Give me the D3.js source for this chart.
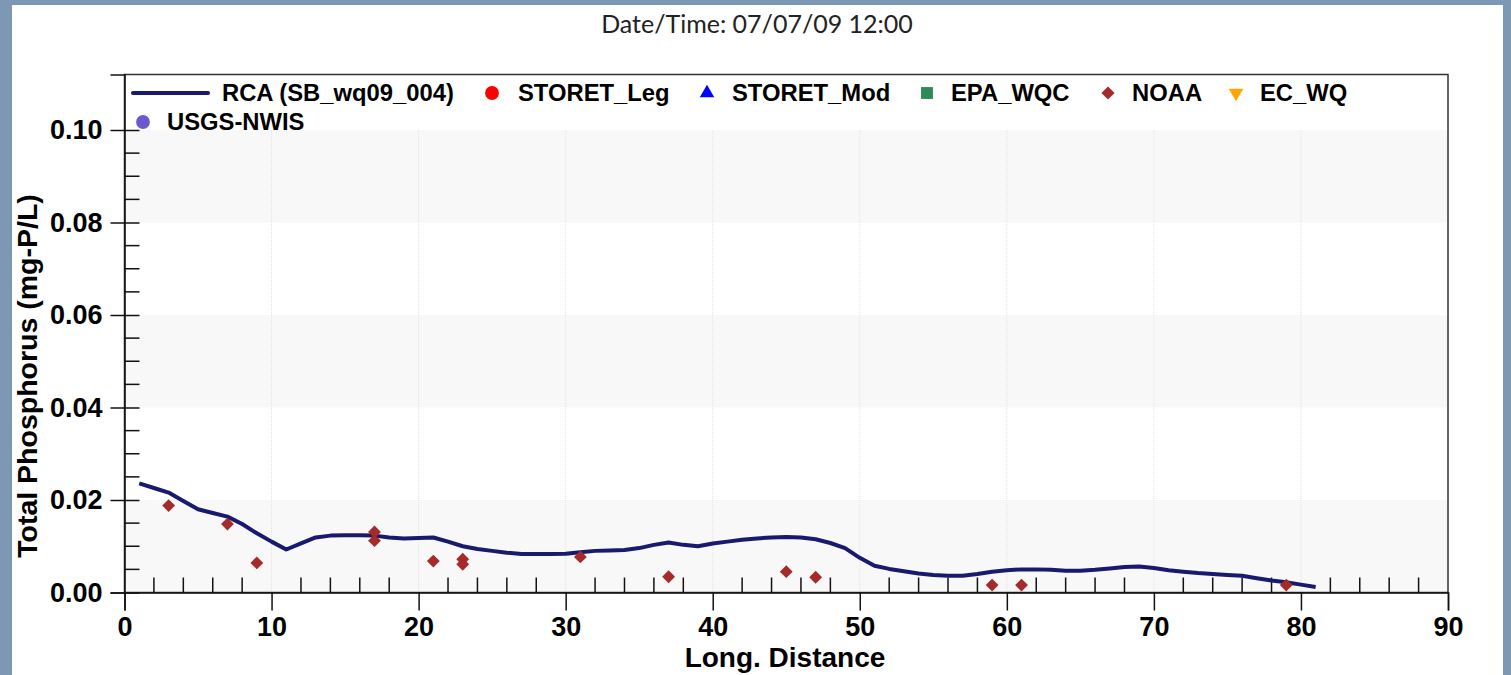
<!DOCTYPE html>
<html>
<head>
<meta charset="utf-8">
<script src="https://cdn.jsdelivr.net/npm/d3@7"></script>
<style>
  html, body { margin: 0; padding: 0; background: #7d98b5; }
  svg { display: block; }
</style>
</head>
<body>
<svg id="chart" width="1511" height="675"></svg>
<script>
// Model profile: RCA (SB_wq09_004), total phosphorus vs. longitudinal distance
const rcaDistance = [1,2,3,4,5,6,7,8,9,10,11,12,13,14,15,16,17,18,19,20,
  21,22,23,24,25,26,27,28,29,30,31,32,33,34,35,36,37,38,39,40,
  41,42,43,44,45,46,47,48,49,50,51,52,53,54,55,56,57,58,59,60,
  61,62,63,64,65,66,67,68,69,70,71,72,73,74,75,76,77,78,79,80,81];
const rcaValue = [0.0236,0.0226,0.0216,0.0198,0.0180,0.0172,0.0164,0.0148,0.0128,0.0110,
  0.0093,0.0106,0.0119,0.0123,0.0124,0.0124,0.0123,0.0119,0.0117,0.0118,
  0.0119,0.0110,0.0100,0.0094,0.0090,0.0086,0.0083,0.0083,0.0083,0.0084,
  0.0087,0.0090,0.0091,0.0092,0.0096,0.0103,0.0108,0.0103,0.0100,0.0106,
  0.0110,0.0114,0.0117,0.0119,0.0120,0.0119,0.0115,0.0107,0.0096,0.0075,
  0.0058,0.0051,0.0046,0.0041,0.0038,0.0036,0.0036,0.0040,0.0045,0.0048,
  0.0050,0.0050,0.0049,0.0047,0.0047,0.0049,0.0052,0.0055,0.0056,0.0053,
  0.0048,0.0045,0.0042,0.0040,0.0038,0.0036,0.0031,0.0026,0.0022,0.0017,0.0012];

// NOAA observations
const noaaDistance = [3,7,9,17,17,21,23,23,31,37,45,47,59,61,79];
const noaaValue = [0.0188,0.0148,0.0064,0.0131,0.0112,0.0068,0.0072,0.0061,0.0077,0.0034,0.0045,0.0033,0.0016,0.0016,0.0016];

// Legend entries
const legendNames = ["RCA (SB_wq09_004)","STORET_Leg","STORET_Mod","EPA_WQC","NOAA","EC_WQ","USGS-NWIS"];
const legendColors = ["#191970","#ff0000","#0000ff","#2e8b57","#a52a2a","#ffa500","#6a5acd"];
const legendSymbols = ["line","circle","triangle","square","diamond","triangleDown","circle"];

// Axis ticks
const xTicks = [0,10,20,30,40,50,60,70,80,90];
const yTicks = [0.00,0.02,0.04,0.06,0.08,0.10];

const titleText = "Date/Time: 07/07/09 12:00";
const xTitle = "Long. Distance";
const yTitle = "Total Phosphorus (mg-P/L)";

const svg = d3.select("#chart");

// white page panel inside the frame
svg.append("rect").attr("x", 12).attr("y", 5).attr("width", 1491).attr("height", 670).attr("fill", "#ffffff");

const plotL = 124.5, plotR = 1448, plotT = 74.5, plotB = 592.5;
const x = d3.scaleLinear().domain([0, 90]).range([plotL, plotR]);
const y = d3.scaleLinear().domain([0, 0.112]).range([plotB, plotT]);

// alternating horizontal bands
const bands = [[0, 0.02], [0.04, 0.06], [0.08, 0.10]];
svg.append("g").selectAll("rect").data(bands).join("rect")
  .attr("x", plotL).attr("width", plotR - plotL)
  .attr("y", d => y(d[1])).attr("height", d => y(d[0]) - y(d[1]))
  .attr("fill", "#f8f8f8");

// dotted vertical grid
svg.append("g").selectAll("line").data(xTicks.filter(t => t > 0 && t < 90)).join("line")
  .attr("x1", d => x(d)).attr("x2", d => x(d))
  .attr("y1", y(0.10)).attr("y2", plotB)
  .attr("stroke", "#e2e2e2").attr("stroke-width", 1).attr("stroke-dasharray", "1,1");

// plot frame
svg.append("rect").attr("x", plotL).attr("y", plotT).attr("width", plotR - plotL).attr("height", plotB - plotT)
  .attr("fill", "none").attr("stroke", "#333").attr("stroke-width", 1.5);

const tickFont = "'Liberation Sans', Arial, sans-serif";

// x axis: major ticks outward, minor ticks inward
const xAxis = d3.axisBottom(x).tickValues(xTicks).tickSize(18).tickPadding(6).tickFormat(d3.format("d"));
const gx = svg.append("g").attr("transform", `translate(0,${plotB})`).call(xAxis);
gx.select(".domain").attr("stroke", "#111").attr("stroke-width", 1.5);
gx.selectAll(".tick line").attr("stroke", "#111").attr("stroke-width", 1.5);
gx.selectAll(".tick text").attr("font-family", tickFont).attr("font-weight", "bold")
  .attr("font-size", 27).attr("fill", "#000");
const xMinor = d3.range(2, 90, 2).filter(v => v % 10 !== 0);
svg.append("g").selectAll("line").data(xMinor).join("line")
  .attr("x1", d => x(d)).attr("x2", d => x(d))
  .attr("y1", plotB).attr("y2", plotB - 15)
  .attr("stroke", "#111").attr("stroke-width", 1.5);

// y axis: major ticks cross the axis, minor ticks inward
const yAxis = d3.axisLeft(y).tickValues(yTicks).tickSize(14).tickPadding(8).tickFormat(d3.format(".2f"));
const gy = svg.append("g").attr("transform", `translate(${plotL},0)`).call(yAxis);
gy.select(".domain").attr("stroke", "#111").attr("stroke-width", 1.5);
gy.selectAll(".tick line").attr("stroke", "#111").attr("stroke-width", 1.5).attr("x2", 15).attr("x1", -14);
gy.selectAll(".tick text").attr("font-family", tickFont).attr("font-weight", "bold")
  .attr("font-size", 27).attr("fill", "#000");
const yMinor = d3.range(1, 21).map(i => i * 0.005).filter(v => Math.round(v * 1000) % 20 !== 0);
svg.append("g").selectAll("line").data(yMinor).join("line")
  .attr("x1", plotL).attr("x2", plotL + 15)
  .attr("y1", d => y(d)).attr("y2", d => y(d))
  .attr("stroke", "#111").attr("stroke-width", 1.5);

// RCA model line
const rcaData = rcaDistance.map((d, i) => [d, rcaValue[i]]);
svg.append("path").datum(rcaData)
  .attr("fill", "none").attr("stroke", "#191970").attr("stroke-width", 4)
  .attr("stroke-linejoin", "round")
  .attr("d", d3.line().x(d => x(d[0])).y(d => y(d[1])));

// NOAA diamonds
const diamond = d3.symbol().type(d3.symbolDiamond2).size(105);
svg.append("g").selectAll("path").data(noaaDistance.map((d, i) => [d, noaaValue[i]])).join("path")
  .attr("transform", d => `translate(${x(d[0])},${y(d[1])})`)
  .attr("d", diamond).attr("fill", "#a52a2a");

// legend
const legendPos = [
  {sx: 170, tx: 222, y: 93},
  {sx: 492, tx: 518, y: 93},
  {sx: 707, tx: 732, y: 93},
  {sx: 927, tx: 951, y: 93},
  {sx: 1108, tx: 1132, y: 93},
  {sx: 1236, tx: 1260, y: 93},
  {sx: 143, tx: 167, y: 122}
];
const symbolPath = {
  circle: d3.symbol().type(d3.symbolCircle).size(150)(),
  triangle: d3.symbol().type(d3.symbolTriangle2).size(150)(),
  square: d3.symbol().type(d3.symbolSquare2).size(180)(),
  diamond: d3.symbol().type(d3.symbolDiamond2).size(110)(),
  triangleDown: d3.symbol().type(d3.symbolTriangle2).size(150)()
};
const lg = svg.append("g");
legendNames.forEach((name, i) => {
  const p = legendPos[i];
  const s = legendSymbols[i];
  if (s === "line") {
    lg.append("line").attr("x1", 133).attr("x2", 208).attr("y1", p.y).attr("y2", p.y)
      .attr("stroke", legendColors[i]).attr("stroke-width", 4).attr("stroke-linecap", "round");
  } else {
    lg.append("path").attr("d", symbolPath[s])
      .attr("transform", `translate(${p.sx},${p.y})` + (s === "triangleDown" ? " rotate(180)" : ""))
      .attr("fill", legendColors[i]);
  }
  lg.append("text").attr("x", p.tx).attr("y", p.y + 8)
    .attr("font-family", tickFont).attr("font-weight", "bold").attr("font-size", 23.8)
    .attr("fill", "#000").text(name);
});

// titles
svg.append("text").attr("x", 757).attr("y", 33).attr("text-anchor", "middle")
  .attr("font-family", "Lato, 'Open Sans', sans-serif").attr("font-size", 25).attr("fill", "#222")
  .text(titleText);
svg.append("text").attr("x", 785).attr("y", 667).attr("text-anchor", "middle")
  .attr("font-family", tickFont).attr("font-weight", "bold").attr("font-size", 28).attr("fill", "#000")
  .text(xTitle);
svg.append("text").attr("transform", "translate(37,376) rotate(-90)").attr("text-anchor", "middle")
  .attr("font-family", tickFont).attr("font-weight", "bold").attr("font-size", 28.5).attr("fill", "#000")
  .text(yTitle);
</script>
</body>
</html>
